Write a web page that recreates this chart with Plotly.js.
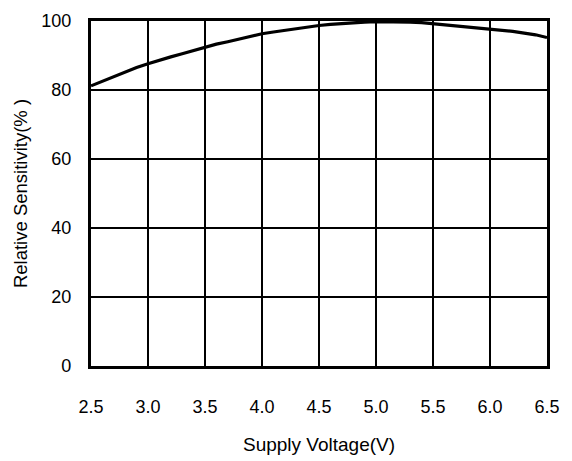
<!DOCTYPE html>
<html>
<head>
<meta charset="utf-8">
<script src="https://cdn.plot.ly/plotly-3.0.1.min.js"></script>
<style>
html,body{margin:0;padding:0;background:#fff;}
#chart{width:572px;height:461px;}
</style>
</head>
<body>
<div id="chart"></div>
<script>
// Supply voltage (V)
const voltage = [2.5,2.6,2.7,2.8,2.9,3.0,3.1,3.2,3.3,3.4,3.5,3.6,3.7,3.8,3.9,4.0,4.1,4.2,4.3,4.4,4.5,4.6,4.7,4.8,4.9,5.0,5.1,5.2,5.3,5.4,5.5,5.6,5.7,5.8,5.9,6.0,6.1,6.2,6.3,6.4,6.5];
// Relative sensitivity (%)
const sensitivity = [81.2,82.5,84.0,85.3,86.5,87.6,88.7,89.6,90.5,91.5,92.5,93.3,94.0,94.8,95.6,96.3,96.8,97.3,97.8,98.2,98.7,99.0,99.3,99.6,99.7,99.8,99.8,99.8,99.7,99.5,99.2,98.9,98.6,98.2,97.9,97.6,97.3,97.0,96.5,96.0,95.2];
const xTicks = [2.5,3.0,3.5,4.0,4.5,5.0,5.5,6.0,6.5];
const xTickText = ["2.5","3.0","3.5","4.0","4.5","5.0","5.5","6.0","6.5"];
const yTicks = [0,20,40,60,80,100];
const xTitle = "Supply Voltage(V)";
const yTitle = "Relative Sensitivity(% )";

const FONT = "'Liberation Sans Narrow', 'Arial Narrow', 'Liberation Sans', Arial, sans-serif";

Plotly.newPlot('chart', [{
  x: voltage,
  y: sensitivity,
  type: 'scatter',
  mode: 'lines',
  line: {color: '#000', width: 3.2},
  hoverinfo: 'skip'
}], {
  width: 572, height: 461,
  margin: {l: 91, r: 25, t: 21, b: 95, pad: 0},
  paper_bgcolor: '#fff',
  plot_bgcolor: '#fff',
  showlegend: false,
  font: {family: FONT, color: '#000', size: 18},
  xaxis: {
    range: [2.5, 6.5],
    tickvals: xTicks,
    ticktext: xTickText,
    showgrid: true, gridcolor: '#000', gridwidth: 2,
    zeroline: false,
    showline: true, linecolor: '#000', linewidth: 3.2, mirror: true,
    ticks: '',
    ticklabelstandoff: 22,
    tickfont: {family: FONT, size: 18, color: '#000'},
    title: {text: xTitle, font: {family: FONT, size: 19, color: '#000'}, standoff: 23}
  },
  yaxis: {
    range: [0, 100],
    tickvals: yTicks,
    showgrid: true, gridcolor: '#000', gridwidth: 2,
    zeroline: false,
    showline: true, linecolor: '#000', linewidth: 3.2, mirror: true,
    ticks: '',
    ticklabelstandoff: 13,
    tickfont: {family: FONT, size: 18, color: '#000'},
    title: {text: yTitle, font: {family: FONT, size: 18.5, color: '#000'}, standoff: 9}
  }
}, {displayModeBar: false, staticPlot: true});
</script>
</body>
</html>
